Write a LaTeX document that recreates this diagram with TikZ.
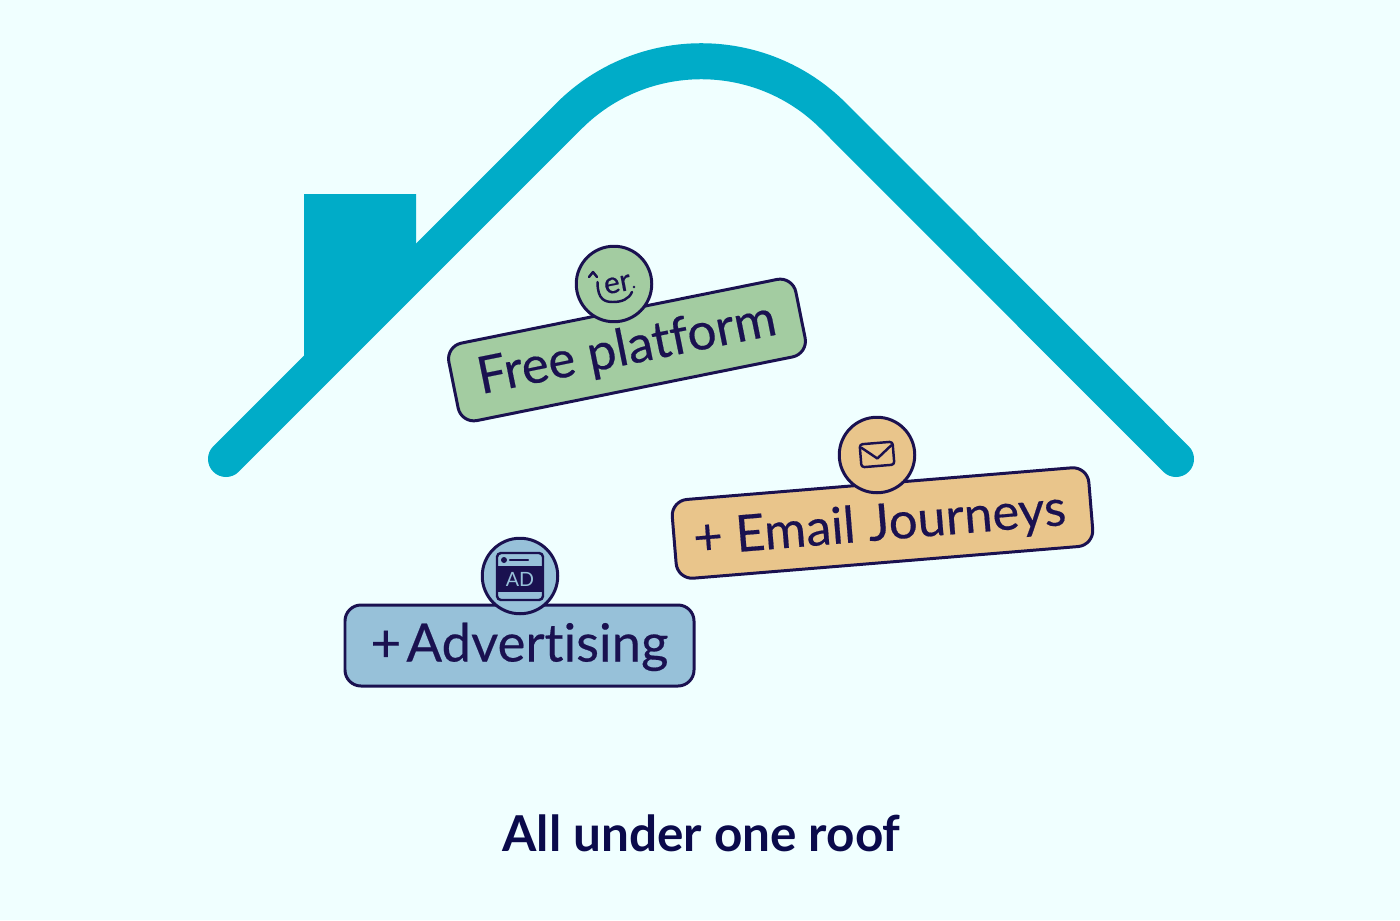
\documentclass[tikz,border=0pt]{standalone}
\usepackage{fontspec}
\setmainfont{Lato}
\newfontfamily\tagfont[FakeBold=0.35,Ligatures=NoCommon]{Lato}
\usetikzlibrary{calc}
\definecolor{skycol}{HTML}{F0FFFF}
\definecolor{roofcol}{HTML}{00ACC8}
\definecolor{navycol}{HTML}{1A1150}
\definecolor{titlecol}{HTML}{0A0A4B}
\definecolor{greencol}{HTML}{A3CCA1}
\definecolor{orangecol}{HTML}{E9C58B}
\definecolor{bluecol}{HTML}{97C1D9}
\tikzset{
  tagbox/.style={draw=navycol,line width=0.85pt,rounded corners=0.16cm,inner sep=0pt,
    minimum height=0.79cm,text=navycol,text depth=0.02cm},
  badge/.style={circle,draw=navycol,line width=0.85pt,minimum size=0.755cm,inner sep=0pt},
  iconline/.style={draw=navycol,line width=0.7pt,line cap=round,line join=round}
}
\begin{document}
\begin{tikzpicture}
      \fill [skycol] (0,0) rectangle (14,9.2);
      \useasboundingbox (0,0) rectangle (14,9.2);
      \fill [roofcol] (3.04,7.26) -- (4.16,7.26) -- (4.16,6.52) -- (3.04,5.40) -- cycle;
      \draw [roofcol,line width=0.36cm,line cap=round,line join=round] (2.26,4.61) -- (5.69,8.04) arc [start angle=135,end angle=45,radius=1.87] -- (11.76,4.61);
      \node [tagbox,fill=greencol,minimum width=3.54cm,rotate=11.4,text height=0.31cm,font=\tagfont\fontsize{14.6}{16}\selectfont] (freeTag) at (6.27,5.70) {Free platform};
      \node [tagbox,fill=orangecol,minimum width=4.18cm,rotate=4.7,text height=0.36cm,font=\tagfont\fontsize{14.45}{16}\selectfont] (emailTag) at (8.825,3.97) {+ Email Journeys\kern0.06cm};
      \node [tagbox,fill=bluecol,minimum width=3.49cm,minimum height=0.81cm,text height=0.34cm,font=\tagfont\fontsize{15}{16}\selectfont] (adTag) at (5.195,2.745) {+\kern0.1em\relax Advertising};
      \node [badge,fill=greencol] (freeIcon) at (6.14,6.36) {};
      \node [badge,fill=orangecol] (emailIcon) at (8.77,4.65) {};
      \node [badge,fill=bluecol] (adIcon) at (5.20,3.44) {};
      % er. logo
      \node [text=navycol,font=\tagfont\fontsize{8.6}{9}\selectfont,rotate=11,inner sep=0pt] (erLabel) at (6.175,6.355) {er};
      \draw [iconline] (5.89,6.43) -- (5.93,6.48) -- (5.97,6.43);
      \draw [iconline] (5.975,6.38) .. controls (5.975,6.20) and (6.05,6.18) .. (6.13,6.18) .. controls (6.22,6.18) and (6.29,6.21) .. (6.32,6.28);
      \fill [navycol] (6.34,6.33) circle (0.014);
      % envelope
      \begin{scope}[shift={(8.77,4.655)},rotate=4.7]
      \draw [iconline,rounded corners=0.03cm] (-0.165,-0.115) rectangle (0.165,0.115);
      \draw [iconline] (-0.15,0.08) -- (0,-0.04) -- (0.15,0.08);
      \end{scope}
      % ad window
      \draw [iconline,rounded corners=0.04cm] (4.97,3.20) rectangle (5.43,3.67);
      \fill [navycol] (4.97,3.28) rectangle (5.43,3.54);
      \fill [navycol] (5.04,3.60) circle (0.03);
      \draw [iconline] (5.10,3.60) -- (5.28,3.60);
      \node [text=bluecol,font=\fontsize{5.6}{6}\selectfont,inner sep=0pt] (adLabel) at (5.20,3.41) {AD};
      \node [text=titlecol,font=\bfseries\fontsize{14.07}{16}\selectfont,inner sep=0pt] (title) at (7.015,0.87) {All under one roof};
\end{tikzpicture}
\end{document}
